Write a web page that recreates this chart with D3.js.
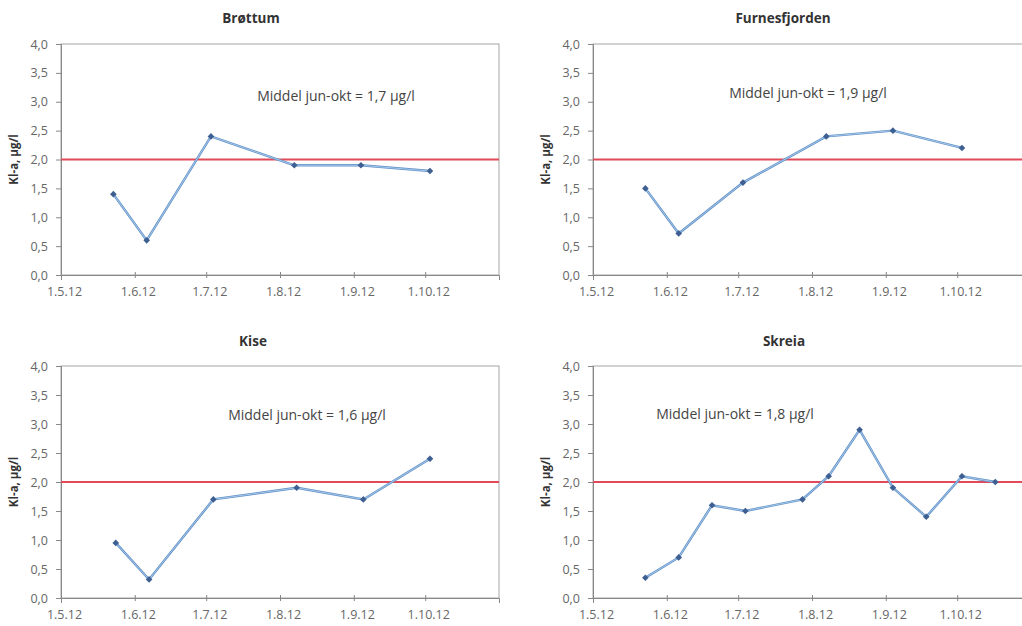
<!DOCTYPE html>
<html><head><meta charset="utf-8">
<script src="https://cdn.jsdelivr.net/npm/d3@7"></script>
<style>body{margin:0;background:#fff;} svg{display:block;}</style>
</head><body>
<svg id="c" width="1022" height="626"></svg>
<script>
// ---- data ----
const tickDates = ["2012-05-01","2012-06-01","2012-07-01","2012-08-01","2012-09-01","2012-10-01"];
const tickLabels = ["1.5.12","1.6.12","1.7.12","1.8.12","1.9.12","1.10.12"];
const yTicks = [0,0.5,1,1.5,2,2.5,3,3.5,4];
const limitValue = 2.0;

const titles = ["Brøttum","Furnesfjorden","Kise","Skreia"];
const notes = ["Middel jun-okt = 1,7 µg/l","Middel jun-okt = 1,9 µg/l","Middel jun-okt = 1,6 µg/l","Middel jun-okt = 1,8 µg/l"];

const brottumDates = ["2012-05-23","2012-06-06","2012-07-03","2012-08-07","2012-09-04","2012-10-03"];
const brottumValues = [1.4,0.6,2.4,1.9,1.9,1.8];

const furnesDates = ["2012-05-23","2012-06-06","2012-07-03","2012-08-07","2012-09-04","2012-10-03"];
const furnesValues = [1.5,0.72,1.6,2.4,2.5,2.2];

const kiseDates = ["2012-05-24","2012-06-07","2012-07-04","2012-08-08","2012-09-05","2012-10-03"];
const kiseValues = [0.95,0.32,1.7,1.9,1.7,2.4];

const skreiaDates = ["2012-05-23","2012-06-06","2012-06-20","2012-07-04","2012-07-28","2012-08-08","2012-08-21","2012-09-04","2012-09-18","2012-10-03","2012-10-17"];
const skreiaValues = [0.35,0.7,1.6,1.5,1.7,2.1,2.9,1.9,1.4,2.1,2.0];

// ---- layout ----
const panels = [
  {dates:brottumDates, values:brottumValues, x0:61,  x1:499,  y0:44,  y1:275, tx:251, ty:23,  nx:336, ny:101},
  {dates:furnesDates,  values:furnesValues,  x0:593, x1:1031, y0:44,  y1:275, tx:783, ty:23,  nx:808, ny:98},
  {dates:kiseDates,    values:kiseValues,    x0:61,  x1:499,  y0:366, y1:598, tx:253, ty:346, nx:307, ny:420},
  {dates:skreiaDates,  values:skreiaValues,  x0:593, x1:1031, y0:366, y1:598, tx:784, ty:346, nx:735, ny:419}
];
const parse = d3.timeParse("%Y-%m-%d");
const svg = d3.select("#c");
const font = "'Open Sans', sans-serif";

panels.forEach((p,i)=>{
  const x = d3.scaleTime().domain([parse("2012-05-01"), parse("2012-11-01")]).range([p.x0,p.x1]);
  const y = d3.scaleLinear().domain([0,4]).range([p.y1,p.y0]);
  const g = svg.append("g");

  // plot border
  g.append("rect").attr("x",p.x0).attr("y",p.y0).attr("width",p.x1-p.x0).attr("height",p.y1-p.y0)
    .attr("fill","none").attr("stroke","#a6a6a6").attr("stroke-width",1);

  // y axis
  const ya = d3.axisLeft(y).tickValues(yTicks).tickSize(5).tickPadding(8)
    .tickFormat(d=>d3.format(".1f")(d).replace(".",","));
  const yg = g.append("g").attr("transform",`translate(${p.x0},0)`).call(ya);
  // x axis
  const xa = d3.axisBottom(x).tickValues(tickDates.map(parse)).tickSize(5).tickPadding(7)
    .tickFormat((d,k)=>tickLabels[k]);
  const xg = g.append("g").attr("transform",`translate(0,${p.y1})`).call(xa);
  [yg,xg].forEach(a=>{
    a.select(".domain").attr("stroke","#888");
    a.selectAll(".tick line").attr("stroke","#888");
    a.selectAll("text").attr("fill","#666").style("font-family",font).style("font-size","12.5px");
  });
  xg.selectAll(".tick line").attr("y1",-3).attr("y2",3);
  xg.selectAll(".tick text").attr("dx","3");

  // limit line
  g.append("line").attr("x1",p.x0).attr("x2",p.x1).attr("y1",y(limitValue)).attr("y2",y(limitValue))
    .attr("stroke","#e24a5a").attr("stroke-width",2);

  // series
  const pts = p.dates.map((d,k)=>[x(parse(d)), y(p.values[k])]);
  const line = d3.line();
  g.append("path").attr("d",line(pts)).attr("fill","none").attr("stroke","#6592c6").attr("stroke-width",2.4);
  g.append("path").attr("d",line(pts)).attr("fill","none").attr("stroke","#a8cdee").attr("stroke-width",0.9);
  g.selectAll(".m").data(pts).enter().append("path")
    .attr("d",d3.symbol(d3.symbolSquare, 22)())
    .attr("transform",d=>`translate(${d[0]},${d[1]}) rotate(45)`)
    .attr("fill","#3d5f91");

  // title
  g.append("text").attr("x",p.tx).attr("y",p.ty).attr("text-anchor","middle")
    .style("font-family",font).style("font-size","13.5px").style("font-weight","bold").attr("fill","#333")
    .text(titles[i]);
  // note
  g.append("text").attr("x",p.nx).attr("y",p.ny).attr("text-anchor","middle")
    .style("font-family",font).style("font-size","14px").attr("fill","#444").text(notes[i]);
  // y label
  g.append("text").attr("transform",`translate(${p.x0-43},${(p.y0+p.y1)/2}) rotate(-90)`)
    .attr("text-anchor","middle").style("font-family",font).style("font-size","11.5px")
    .style("font-weight","bold").attr("fill","#333").text("Kl-a, µg/l");
});
</script>
</body></html>
